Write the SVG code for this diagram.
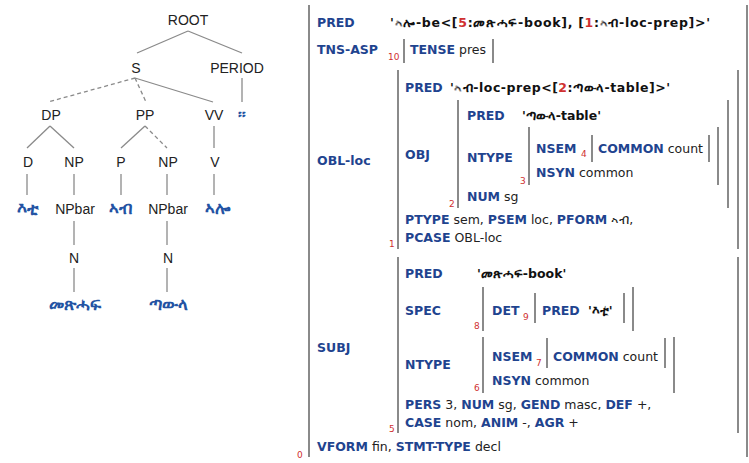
<svg xmlns="http://www.w3.org/2000/svg" width="749" height="463" viewBox="0 0 749 463">
<style>
.t{font-family:"Liberation Sans","Noto Sans",sans-serif;font-size:14px;fill:#222;text-anchor:middle}
.lf{font-family:"Noto Sans","DejaVu Sans",sans-serif;font-size:17px;font-weight:bold;fill:#2353a3;text-anchor:middle}
.e{stroke:#8a8a8a;stroke-width:1.3;fill:none}
.d{stroke-dasharray:4 3}
.f{font-family:"DejaVu Sans","Noto Sans",sans-serif;font-size:12.5px;fill:#222}
.a{font-weight:bold;fill:#1f448f}
.v{font-weight:bold;fill:#111}
.r{fill:#d03030}
.n{font-family:"DejaVu Sans",sans-serif;font-size:9px;fill:#d03030}
.b{stroke:#8a8a8a;stroke-width:2;fill:none}
</style>
<rect width="749" height="463" fill="#fff"/>
<g id="connectors">
<line class="e" x1="188" y1="31" x2="137" y2="53"/>
<line class="e" x1="188" y1="31" x2="242" y2="53"/>
<line class="e d" x1="135" y1="78" x2="48" y2="102"/>
<line class="e d" x1="135" y1="78" x2="146" y2="102"/>
<line class="e" x1="135" y1="78" x2="213" y2="102"/>
<line class="e" x1="242" y1="78" x2="242" y2="102"/>
<line class="e" x1="50" y1="126" x2="27" y2="148"/>
<line class="e" x1="50" y1="126" x2="74" y2="148"/>
<line class="e" x1="145" y1="126" x2="121" y2="148"/>
<line class="e d" x1="145" y1="126" x2="167" y2="148"/>
<line class="e" x1="214" y1="126" x2="214" y2="148"/>
<line class="e" x1="27" y1="174" x2="27" y2="195"/>
<line class="e" x1="74" y1="174" x2="74" y2="195"/>
<line class="e" x1="121" y1="174" x2="121" y2="195"/>
<line class="e" x1="167" y1="174" x2="167" y2="195"/>
<line class="e" x1="214" y1="174" x2="214" y2="195"/>
<line class="e" x1="74" y1="221" x2="74" y2="245"/>
<line class="e" x1="167" y1="221" x2="167" y2="245"/>
<line class="e" x1="74" y1="268" x2="74" y2="292"/>
<line class="e" x1="167" y1="268" x2="167" y2="292"/>
</g>
<g id="root"><text class="t" x="188" y="25">ROOT</text></g>
<g id="s"><text class="t" x="136" y="73">S</text></g>
<g id="period"><text class="t" x="237" y="73">PERIOD</text></g>
<g id="dp"><text class="t" x="51" y="120">DP</text></g>
<g id="pp"><text class="t" x="145" y="120">PP</text></g>
<g id="vv"><text class="t" x="214" y="120">VV</text></g>
<g id="stop"><text class="lf" x="242" y="120">።</text></g>
<g id="d"><text class="t" x="28" y="167">D</text></g>
<g id="np1"><text class="t" x="74" y="167">NP</text></g>
<g id="p"><text class="t" x="121" y="167">P</text></g>
<g id="np2"><text class="t" x="168" y="167">NP</text></g>
<g id="v"><text class="t" x="215" y="167">V</text></g>
<g id="eti"><text class="lf" x="27" y="214">እቲ</text></g>
<g id="npbar1"><text class="t" x="75" y="214">NPbar</text></g>
<g id="ab"><text class="lf" x="121" y="214">ኣብ</text></g>
<g id="npbar2"><text class="t" x="168" y="214">NPbar</text></g>
<g id="alo"><text class="lf" x="217" y="214">ኣሎ</text></g>
<g id="n1"><text class="t" x="74" y="263">N</text></g>
<g id="n2"><text class="t" x="168" y="263">N</text></g>
<g id="metshaf"><text class="lf" x="75" y="310">መጽሓፍ</text></g>
<g id="tawla"><text class="lf" x="168" y="310">ጣውላ</text></g>

<g id="fstructure">
<path class="b" d="M309 5V457M747 5V457"/>
<text class="n" x="297" y="458">0</text>
<text class="f" x="317" y="27"><tspan class="a">PRED</tspan></text>
<text class="f v" x="390" y="27" textLength="320" lengthAdjust="spacing">'ኣሎ-be&lt;[<tspan class="r">5</tspan>:መጽሓፍ-book], [<tspan class="r">1</tspan>:ኣብ-loc-prep]&gt;'</text>
<text class="f" x="317" y="54"><tspan class="a">TNS-ASP</tspan></text>
<text class="n" x="388" y="60">10</text>
<path class="b" d="M404 39V63M493 39V63"/>
<text class="f" x="410" y="54"><tspan class="a">TENSE</tspan> pres</text>

<text class="f" x="317" y="165"><tspan class="a">OBL-loc</tspan></text>
<path class="b" d="M398 70V249M738 70V249"/>
<text class="n" x="389" y="247">1</text>
<text class="f" x="405" y="92"><tspan class="a">PRED</tspan></text>
<text class="f v" x="450" y="92" textLength="220" lengthAdjust="spacing">'ኣብ-loc-prep&lt;[<tspan class="r">2</tspan>:ጣውላ-table]&gt;'</text>
<text class="f" x="405" y="159"><tspan class="a">OBJ</tspan></text>
<path class="b" d="M458 100V208M728 100V208"/>
<text class="n" x="449" y="207">2</text>
<text class="f" x="467" y="120"><tspan class="a">PRED</tspan></text>
<text class="f v" x="522" y="120">'ጣውላ-table'</text>
<text class="f" x="467" y="162"><tspan class="a">NTYPE</tspan></text>
<path class="b" d="M529 127V185M718 127V185"/>
<text class="n" x="520" y="184">3</text>
<text class="f" x="536" y="153"><tspan class="a">NSEM</tspan></text>
<text class="n" x="581" y="157">4</text>
<path class="b" d="M592 135V162M709 135V162"/>
<text class="f" x="598" y="153"><tspan class="a">COMMON</tspan> count</text>
<text class="f" x="536" y="177"><tspan class="a">NSYN</tspan> common</text>
<text class="f" x="467" y="201"><tspan class="a">NUM</tspan> sg</text>
<text class="f" x="405" y="224"><tspan class="a">PTYPE</tspan> sem, <tspan class="a">PSEM</tspan> loc, <tspan class="a">PFORM</tspan> ኣብ,</text>
<text class="f" x="405" y="242"><tspan class="a">PCASE</tspan> OBL-loc</text>

<text class="f" x="317" y="352"><tspan class="a">SUBJ</tspan></text>
<path class="b" d="M398 257V433M738 257V433"/>
<text class="n" x="389" y="432">5</text>
<text class="f" x="405" y="278"><tspan class="a">PRED</tspan></text>
<text class="f v" x="477" y="278">'መጽሓፍ-book'</text>
<text class="f" x="405" y="315"><tspan class="a">SPEC</tspan></text>
<path class="b" d="M483 287V331M633 287V331"/>
<text class="n" x="474" y="329">8</text>
<text class="f" x="492" y="315"><tspan class="a">DET</tspan></text>
<text class="n" x="523" y="320">9</text>
<path class="b" d="M535 293V323M624 293V323"/>
<text class="f" x="542" y="315"><tspan class="a">PRED</tspan></text>
<text class="f v" x="588" y="315">'እቲ'</text>
<text class="f" x="405" y="369"><tspan class="a">NTYPE</tspan></text>
<path class="b" d="M483 337V393M674 337V393"/>
<text class="n" x="474" y="391">6</text>
<text class="f" x="492" y="361"><tspan class="a">NSEM</tspan></text>
<text class="n" x="536" y="366">7</text>
<path class="b" d="M547 338V368M665 338V368"/>
<text class="f" x="553" y="361"><tspan class="a">COMMON</tspan> count</text>
<text class="f" x="492" y="385"><tspan class="a">NSYN</tspan> common</text>
<text class="f" x="405" y="409"><tspan class="a">PERS</tspan> 3, <tspan class="a">NUM</tspan> sg, <tspan class="a">GEND</tspan> masc, <tspan class="a">DEF</tspan> +,</text>
<text class="f" x="405" y="427"><tspan class="a">CASE</tspan> nom, <tspan class="a">ANIM</tspan> -, <tspan class="a">AGR</tspan> +</text>
<text class="f" x="317" y="451"><tspan class="a">VFORM</tspan> fin, <tspan class="a">STMT-TYPE</tspan> decl</text>
</g>
</svg>
